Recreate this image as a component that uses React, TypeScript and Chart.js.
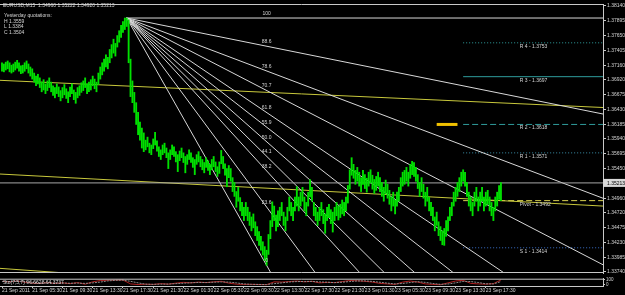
import React, { useEffect, useRef } from "react";
import { Chart, registerables } from "chart.js";
Chart.register(...registerables);

const TITLE = "EURUSD,M15  1.34960 1.35222 1.34920 1.35213";
const INFO_LINES = ["Yesterday quotations:", "H 1.3559", "L 1.3384", "C 1.3504"];

const HIGHS = [
  1.3720,1.3718,1.3721,1.3723,1.3720,1.3716,1.3718,1.3721,1.3724,1.3720,1.3715,1.3716,1.3720,1.3723,1.3718,1.3713,
  1.3710,1.3703,1.3698,1.3701,1.3695,1.3688,1.3692,1.3685,
  1.3690,1.3695,1.3688,1.3682,1.3679,1.3685,1.3680,1.3674,
  1.3679,1.3684,1.3677,1.3672,1.3680,1.3685,1.3675,1.3671,1.3679,1.3682,1.3687,
  1.3690,1.3695,1.3685,1.3688,1.3692,1.3698,1.3693,1.3688,
  1.3703,1.3713,1.3720,1.3726,1.3733,1.3729,
  1.3742,1.3750,1.3759,1.3752,1.3765,1.3773,
  1.3782,1.3788,1.3794,1.3794,
  1.3791,1.3726,1.3690,1.3671,1.3654,1.3638,1.3622,1.3612,1.3604,
  1.3592,1.3597,1.3587,1.3584,1.3594,1.3605,1.3591,1.3581,1.3576,1.3584,1.3587,1.3579,1.3571,1.3576,1.3584,1.3581,1.3573,1.3568,1.3574,1.3579,1.3571,1.3565,1.3568,1.3576,1.3571,1.3563,1.3560,1.3568,1.3573,1.3565,
  1.3560,1.3555,1.3563,1.3558,1.3552,1.3560,1.3565,1.3556,1.3548,1.3556,1.3575,1.3565,1.3553,1.3545,1.3550,
  1.3545,1.3530,1.3522,1.3507,1.3514,1.3497,1.3489,1.3481,
  1.3489,1.3481,1.3473,1.3465,1.3470,1.3457,1.3449,1.3441,1.3433,1.3424,1.3416,1.3410,
  1.3436,1.3459,1.3490,1.3483,1.3468,1.3475,
  1.3481,1.3489,1.3473,1.3465,1.3481,1.3498,1.3489,1.3481,1.3498,1.3515,1.3498,
  1.3506,1.3514,1.3498,1.3489,1.3506,1.3527,1.3514,
  1.3489,1.3481,1.3473,1.3481,1.3489,1.3477,1.3470,
  1.3481,1.3486,1.3477,1.3473,1.3481,1.3489,1.3483,1.3486,1.3493,1.3489,1.3498,
  1.3517,1.3543,1.3563,
  1.3552,1.3542,1.3547,1.3539,1.3530,1.3542,1.3535,1.3529,1.3539,1.3543,1.3534,1.3527,1.3532,1.3539,
  1.3530,1.3522,1.3514,1.3526,1.3519,1.3509,1.3498,1.3506,1.3493,1.3506,
  1.3514,1.3530,1.3539,1.3542,1.3547,1.3539,1.3552,1.3557,1.3555,
  1.3547,1.3535,1.3522,1.3530,1.3519,1.3506,1.3514,1.3498,1.3489,
  1.3481,1.3465,1.3473,1.3457,1.3449,1.3442,1.3446,1.3459,
  1.3465,1.3481,1.3489,1.3506,1.3514,1.3522,1.3530,1.3539,1.3543,
  1.3539,1.3522,1.3506,1.3498,1.3489,1.3506,1.3514,1.3498,
  1.3506,1.3514,1.3498,1.3506,1.3509,1.3498,
  1.3489,1.3481,1.3498,1.3506,
  1.3517,1.3522,
];

const LOWS = [
  1.3706,1.3705,1.3708,1.3710,1.3705,1.3703,1.3705,1.3708,1.3711,1.3706,1.3702,1.3703,1.3706,1.3710,1.3703,1.3698,
  1.3693,1.3688,1.3682,1.3685,1.3679,1.3672,1.3675,1.3669,
  1.3674,1.3679,1.3672,1.3666,1.3662,1.3669,1.3664,1.3657,
  1.3662,1.3667,1.3661,1.3654,1.3664,1.3669,1.3659,1.3653,1.3662,1.3666,1.3671,
  1.3674,1.3679,1.3669,1.3672,1.3675,1.3682,1.3677,1.3672,
  1.3684,1.3693,1.3700,1.3706,1.3713,1.3710,
  1.3720,1.3728,1.3736,1.3731,1.3746,1.3754,
  1.3762,1.3770,1.3775,1.3780,
  1.3720,1.3664,1.3654,1.3638,1.3618,1.3601,1.3592,1.3579,1.3573,
  1.3576,1.3581,1.3571,1.3568,1.3578,1.3584,1.3574,1.3565,1.3560,1.3568,1.3571,1.3563,1.3545,1.3560,1.3568,1.3565,1.3556,1.3540,1.3558,1.3563,1.3555,1.3538,1.3552,1.3560,1.3555,1.3547,1.3535,1.3552,1.3556,1.3548,
  1.3543,1.3538,1.3547,1.3542,1.3535,1.3543,1.3548,1.3540,1.3532,1.3537,1.3553,1.3545,1.3534,1.3515,1.3530,
  1.3524,1.3507,1.3499,1.3481,1.3491,1.3475,1.3467,1.3459,
  1.3467,1.3459,1.3451,1.3442,1.3447,1.3434,1.3426,1.3418,1.3410,1.3402,1.3393,1.3385,
  1.3403,1.3429,1.3449,1.3459,1.3442,1.3449,
  1.3459,1.3467,1.3451,1.3442,1.3459,1.3475,1.3467,1.3459,1.3475,1.3483,1.3475,
  1.3483,1.3491,1.3475,1.3467,1.3483,1.3498,1.3491,
  1.3467,1.3459,1.3451,1.3459,1.3467,1.3454,1.3438,
  1.3459,1.3464,1.3454,1.3440,1.3459,1.3467,1.3460,1.3464,1.3470,1.3467,1.3475,
  1.3488,1.3511,1.3534,
  1.3529,1.3519,1.3524,1.3516,1.3507,1.3519,1.3512,1.3506,1.3516,1.3521,1.3511,1.3504,1.3509,1.3516,
  1.3507,1.3499,1.3491,1.3503,1.3496,1.3486,1.3475,1.3483,1.3470,1.3483,
  1.3491,1.3507,1.3516,1.3519,1.3524,1.3516,1.3529,1.3535,1.3532,
  1.3524,1.3512,1.3499,1.3507,1.3496,1.3483,1.3491,1.3475,1.3467,
  1.3459,1.3442,1.3451,1.3434,1.3426,1.3419,1.3418,1.3433,
  1.3442,1.3459,1.3467,1.3483,1.3491,1.3499,1.3507,1.3516,1.3524,
  1.3516,1.3499,1.3483,1.3475,1.3467,1.3483,1.3491,1.3475,
  1.3483,1.3491,1.3475,1.3483,1.3486,1.3475,
  1.3467,1.3459,1.3475,1.3483,
  1.3494,1.3492,
];

const TIME_LABELS = [
  "21 Sep 2011", "21 Sep 05:30", "21 Sep 09:30", "21 Sep 13:30", "21 Sep 17:30", "21 Sep 21:30",
  "22 Sep 01:30", "22 Sep 05:30", "22 Sep 09:30", "22 Sep 13:30", "22 Sep 17:30", "22 Sep 21:30",
  "23 Sep 01:30", "23 Sep 05:30", "23 Sep 09:30", "23 Sep 13:30", "23 Sep 17:30",
];
const TIME_TICK_BARS = [0, 16, 32, 48, 64, 80, 96, 112, 128, 144, 160, 176, 192, 208, 224, 240, 256];

const PRICE_TICKS = [
  1.38140, 1.37895, 1.37650, 1.37405, 1.37160, 1.36920, 1.36675, 1.36430, 1.36185,
  1.35940, 1.35695, 1.35450, 1.34960, 1.34720, 1.34475, 1.34230, 1.33985, 1.33740,
];
const CURRENT_PRICE = 1.35213;

const FAN_ORIGIN_BAR = 66;
const FAN_ORIGIN_PRICE = 1.3794;
const FAN_ANCHOR_BAR = 140;
const FAN_ANCHOR_PRICE = 1.3385;
const FAN_LEVELS = [100, 88.6, 78.6, 70.7, 61.8, 55.9, 50, 44.1, 38.2, 23.6, 0];
const FAN_LABELS = ["100", "88.6", "78.6", "70.7", "61.8", "55.9", "50.0", "44.1", "38.2", "23.6", "0"];

const PIVOT_NAMES = ["R 4", "R 3", "R 2", "R 1", "Pivot", "S 1"];
const PIVOT_VALUES = [1.3753, 1.3697, 1.3618, 1.3571, 1.3492, 1.3414];
const PIVOT_START_BAR = 244;
const PIVOT_LABEL_BAR = 274;
const MARKER_BARS = [230, 241];
const MARKER_PRICE = 1.3618;

const TREND_UPPER_BARS = [-1.1, 318];
const TREND_UPPER_PRICES = [1.3691, 1.3646];
const TREND_LOWER_BARS = [-1.1, 318];
const TREND_LOWER_PRICES = [1.3536, 1.3483];
const TREND_BOTTOM_BARS = [-1.1, 80];
const TREND_BOTTOM_PRICES = [1.3380, 1.3362];

const OSC_TITLE = "Sto(7,5,7) 96.6628 64.3737";
const OSC_STEP = 4;
const OSC_MAIN = [70,60,75,55,35,30,45,30,40,25,45,15,60,85,90,92,95,20,8,15,10,25,15,35,50,40,55,45,60,70,35,15,10,12,8,5,60,55,65,75,60,70,40,50,45,65,85,80,70,55,30,20,10,55,75,55,20,10,5,40,75,90,30,20,15,25,96.7];
const OSC_SIGNAL = [65,65,68,63,50,38,38,36,38,32,36,30,40,55,78,88,92,70,40,15,12,16,17,25,33,42,48,47,53,58,55,40,20,12,10,8,25,40,58,65,67,68,58,53,45,53,65,77,78,68,52,35,20,28,47,62,50,28,12,18,40,68,65,47,22,20,64.4];

const X_MIN = -1.06;
const X_MAX = 318;
const FONT = '"Liberation Sans", Arial, sans-serif';
const TXT = "#d4d4d4";
const AXIS = "#c8c8c8";

function line(xs: number[], ys: number[], color: string, width = 1, dash: number[] = []) {
  return {
    type: "line" as const,
    data: xs.map((x, i) => ({ x, y: ys[i] })),
    borderColor: color,
    borderWidth: width,
    borderDash: dash,
    pointRadius: 0,
    fill: false,
    tension: 0,
  };
}

export default function App() {
  const mainRef = useRef<HTMLCanvasElement>(null);
  const oscRef = useRef<HTMLCanvasElement>(null);

  useEffect(() => {
    document.body.style.margin = "0";
    document.body.style.background = "#000";

    const fanLines = FAN_LEVELS.map((lvl) => {
      const pL = FAN_ANCHOR_PRICE + ((FAN_ORIGIN_PRICE - FAN_ANCHOR_PRICE) * lvl) / 100;
      const pEnd = FAN_ORIGIN_PRICE + ((pL - FAN_ORIGIN_PRICE) * (X_MAX - FAN_ORIGIN_BAR)) / (FAN_ANCHOR_BAR - FAN_ORIGIN_BAR);
      return line([FAN_ORIGIN_BAR, X_MAX], [FAN_ORIGIN_PRICE, pEnd], "#d8d8d8");
    });

    const pivotStyles = [
      { c: "#2f9c9c", d: [1, 2] },
      { c: "#2f9c9c", d: [] },
      { c: "#2f9c9c", d: [6, 3] },
      { c: "#3a8fa8", d: [1, 2] },
      { c: "#d8d050", d: [6, 3] },
      { c: "#3a6fc8", d: [1, 2] },
    ];
    const pivotLines = PIVOT_VALUES.map((v, k) =>
      line([PIVOT_START_BAR, X_MAX], [v, v], pivotStyles[k].c, 1, pivotStyles[k].d)
    );

    const overlay = {
      id: "overlay",
      afterDatasetsDraw(chart: any) {
        const { ctx, chartArea: a, scales } = chart;
        const xs = scales.x;
        const ys = scales.y;
        ctx.save();
        ctx.strokeStyle = AXIS;
        ctx.lineWidth = 1;
        ctx.beginPath();
        ctx.moveTo(a.left, a.top + 0.5);
        ctx.lineTo(a.right, a.top + 0.5);
        ctx.moveTo(a.left, a.bottom - 0.5);
        ctx.lineTo(a.right, a.bottom - 0.5);
        ctx.stroke();

        ctx.font = `5px ${FONT}`;
        ctx.fillStyle = TXT;
        ctx.textBaseline = "middle";
        ctx.textAlign = "left";
        ctx.fillText(TITLE, 3, 6);
        const infoY = [16, 21.5, 27, 32.7];
        INFO_LINES.forEach((t, i) => ctx.fillText(t, 4, infoY[i]));

        ctx.textAlign = "center";
        ctx.textBaseline = "bottom";
        const ax = xs.getPixelForValue(FAN_ANCHOR_BAR);
        FAN_LEVELS.forEach((lvl, i) => {
          const pL = FAN_ANCHOR_PRICE + ((FAN_ORIGIN_PRICE - FAN_ANCHOR_PRICE) * lvl) / 100;
          ctx.fillText(FAN_LABELS[i], ax, ys.getPixelForValue(pL) - 2);
        });

        ctx.textAlign = "left";
        ctx.textBaseline = "top";
        const px = xs.getPixelForValue(PIVOT_LABEL_BAR);
        PIVOT_VALUES.forEach((v, k) => {
          ctx.fillText(`${PIVOT_NAMES[k]} - ${v.toFixed(4)}`, px, ys.getPixelForValue(v) + 1);
        });

        const cy = ys.getPixelForValue(CURRENT_PRICE);
        ctx.fillStyle = "#d8d8d8";
        ctx.fillRect(a.right, cy - 4, 22, 8);
        ctx.fillStyle = "#000";
        ctx.textBaseline = "middle";
        ctx.fillText(CURRENT_PRICE.toFixed(5), a.right + 4, cy + 0.5);
        ctx.restore();
      },
    };

    const main = new Chart(mainRef.current!, {
      data: {
        datasets: [
          {
            type: "bar",
            data: HIGHS.map((h, i) => ({ x: i, y: [LOWS[i], h] })),
            backgroundColor: "#00e000",
            barThickness: 1.2,
            grouped: false,
          } as any,
          line([X_MIN, X_MAX], [CURRENT_PRICE, CURRENT_PRICE], "#a8a8a8"),
          ...fanLines,
          line(TREND_UPPER_BARS, TREND_UPPER_PRICES, "#c8c83c"),
          line(TREND_LOWER_BARS, TREND_LOWER_PRICES, "#c8c83c"),
          line(TREND_BOTTOM_BARS, TREND_BOTTOM_PRICES, "#c8c83c"),
          ...pivotLines,
          line(MARKER_BARS, [MARKER_PRICE, MARKER_PRICE], "#f0c000", 3),
        ],
      },
      options: {
        responsive: false,
        animation: false,
        events: [],
        layout: { padding: { top: 2, bottom: 2, left: 0, right: 0 } },
        plugins: { legend: { display: false }, tooltip: { enabled: false } },
        scales: {
          x: { type: "linear", min: X_MIN, max: X_MAX, offset: false, display: false },
          y: {
            type: "linear",
            position: "right",
            min: 1.33723,
            max: 1.38172,
            afterFit: (s: any) => { s.width = 22; },
            afterBuildTicks: (s: any) => { s.ticks = PRICE_TICKS.map((v) => ({ value: v })); },
            ticks: {
              autoSkip: false,
              padding: 1,
              color: TXT,
              font: { size: 5, family: FONT },
              callback: (v: any) => Number(v).toFixed(5),
            },
            grid: { drawOnChartArea: false, drawTicks: true, tickLength: 3, color: AXIS },
            border: { display: true, color: AXIS },
          },
        },
      },
      plugins: [overlay],
    } as any);

    const oscOverlay = {
      id: "oscOverlay",
      afterDatasetsDraw(chart: any) {
        const { ctx, chartArea: a } = chart;
        ctx.save();
        ctx.strokeStyle = AXIS;
        ctx.lineWidth = 1;
        ctx.beginPath();
        ctx.moveTo(a.left, a.top + 0.5);
        ctx.lineTo(a.right, a.top + 0.5);
        ctx.stroke();
        ctx.font = `5px ${FONT}`;
        ctx.fillStyle = TXT;
        ctx.textBaseline = "middle";
        ctx.textAlign = "left";
        ctx.fillText(OSC_TITLE, 3, a.top + 4);
        ctx.restore();
      },
    };

    const osc = new Chart(oscRef.current!, {
      data: {
        datasets: [
          line(OSC_SIGNAL.map((_, j) => j * OSC_STEP), OSC_SIGNAL, "#8c8c8c", 1, [2, 1]),
          line(OSC_MAIN.map((_, j) => j * OSC_STEP), OSC_MAIN, "#b02020"),
        ],
      },
      options: {
        responsive: false,
        animation: false,
        events: [],
        layout: { padding: { top: 2, bottom: 0, left: 0, right: 0 } },
        plugins: { legend: { display: false }, tooltip: { enabled: false } },
        scales: {
          x: {
            type: "linear",
            min: X_MIN,
            max: X_MAX,
            offset: false,
            afterFit: (s: any) => { s.height = 9; },
            afterBuildTicks: (s: any) => { s.ticks = TIME_TICK_BARS.map((v) => ({ value: v })); },
            ticks: {
              autoSkip: false,
              maxRotation: 0,
              align: "start",
              padding: 0,
              color: TXT,
              font: { size: 5, family: FONT },
              callback: (v: any) => {
                const k = TIME_TICK_BARS.indexOf(Number(v));
                return k >= 0 ? TIME_LABELS[k] : "";
              },
            },
            grid: { drawOnChartArea: false, drawTicks: true, tickLength: 2, color: AXIS },
            border: { display: true, color: AXIS },
          },
          y: {
            type: "linear",
            position: "right",
            min: -20,
            max: 120,
            afterFit: (s: any) => { s.width = 22; },
            afterBuildTicks: (s: any) => { s.ticks = [{ value: 0 }, { value: 100 }]; },
            ticks: {
              autoSkip: false,
              padding: 1,
              color: TXT,
              font: { size: 4.5, family: FONT },
              callback: (v: any) => String(v),
            },
            grid: { drawOnChartArea: false, drawTicks: true, tickLength: 2, color: AXIS },
            border: { display: true, color: AXIS },
          },
        },
      },
      plugins: [oscOverlay],
    } as any);

    return () => {
      main.destroy();
      osc.destroy();
    };
  }, []);

  return (
    <div style={{ position: "fixed", left: 0, top: 0, width: 625, height: 295, background: "#000", overflow: "hidden" }}>
      <canvas ref={mainRef} width={625} height={277} style={{ position: "absolute", left: 0, top: 0 }} />
      <canvas ref={oscRef} width={625} height={20} style={{ position: "absolute", left: 0, top: 275 }} />
    </div>
  );
}
